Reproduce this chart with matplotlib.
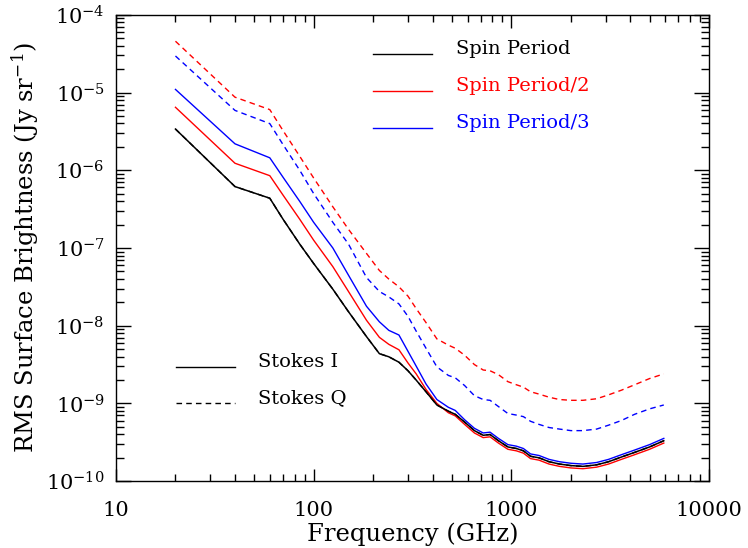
import numpy as np
import matplotlib
matplotlib.use("Agg")
import matplotlib.pyplot as plt
from matplotlib.ticker import LogLocator, NullFormatter, FixedLocator, FixedFormatter

plt.rcParams['font.family'] = 'DejaVu Serif'
plt.rcParams['mathtext.fontset'] = 'dejavuserif'

# --- data (log10 of RMS brightness in Jy/sr) ---
freq_ghz = [20, 40, 60, 70, 85, 100, 125, 150, 185, 215, 240, 270, 300, 330, 370,
            420, 480, 520, 580, 650, 720, 780, 860, 960, 1060, 1150, 1250, 1380,
            1550, 1750, 2000, 2300, 2700, 3100, 3600, 4200, 5000, 5900]

log_i_spin = [-5.47, -6.21, -6.36, -6.63, -6.95, -7.20, -7.53, -7.82, -8.14, -8.36,
              -8.40, -8.47, -8.58, -8.70, -8.85, -9.02, -9.10, -9.14, -9.24, -9.35,
              -9.41, -9.40, -9.48, -9.56, -9.58, -9.61, -9.68, -9.70, -9.75, -9.78,
              -9.80, -9.81, -9.79, -9.75, -9.69, -9.63, -9.56, -9.48]

log_i_spin2 = [-5.19, -5.91, -6.07, -6.32, -6.63, -6.90, -7.24, -7.56, -7.93, -8.15,
               -8.24, -8.31, -8.48, -8.62, -8.82, -9.00, -9.12, -9.16, -9.27, -9.38,
               -9.44, -9.43, -9.51, -9.59, -9.61, -9.64, -9.71, -9.73, -9.78, -9.81,
               -9.83, -9.84, -9.82, -9.78, -9.72, -9.66, -9.59, -9.51]

log_i_spin3 = [-4.96, -5.66, -5.84, -6.09, -6.40, -6.67, -7.00, -7.35, -7.75, -7.95,
               -8.06, -8.12, -8.33, -8.52, -8.75, -8.95, -9.05, -9.09, -9.21, -9.32,
               -9.38, -9.37, -9.45, -9.53, -9.55, -9.58, -9.65, -9.67, -9.72, -9.75,
               -9.77, -9.78, -9.76, -9.72, -9.66, -9.60, -9.53, -9.45]

log_q_spin2 = [-4.34, -5.06, -5.22, -5.49, -5.82, -6.10, -6.47, -6.76, -7.07, -7.29,
               -7.40, -7.50, -7.62, -7.78, -7.96, -8.17, -8.25, -8.29, -8.38, -8.50,
               -8.57, -8.58, -8.63, -8.72, -8.76, -8.79, -8.85, -8.88, -8.92, -8.95,
               -8.96, -8.96, -8.94, -8.89, -8.83, -8.76, -8.68, -8.62]

log_q_spin3 = [-4.53, -5.23, -5.40, -5.67, -6.00, -6.30, -6.67, -6.95, -7.38, -7.56,
               -7.63, -7.72, -7.88, -8.07, -8.29, -8.53, -8.64, -8.67, -8.77, -8.90,
               -8.95, -8.96, -9.04, -9.13, -9.15, -9.17, -9.23, -9.27, -9.31, -9.33,
               -9.35, -9.35, -9.33, -9.28, -9.22, -9.14, -9.07, -9.02]

# Stokes Q at the full spin period lies on top of Stokes I
log_q_spin = log_i_spin

spin_labels = ["Spin Period", "Spin Period/2", "Spin Period/3"]
spin_colors = ["black", "red", "blue"]
x_ticks = [10, 100, 1000, 10000]
y_ticks = [1e-10, 1e-9, 1e-8, 1e-7, 1e-6, 1e-5, 1e-4]
DASH = (0, (4, 3))

fig = plt.figure(figsize=(7.48, 5.48), dpi=100)
ax = fig.add_axes([0.155, 0.122, 0.793, 0.851])

f = np.array(freq_ghz)
ax.plot(f, 10 ** np.array(log_q_spin), color="black", lw=1, ls=DASH)
ax.plot(f, 10 ** np.array(log_q_spin2), color="red", lw=1, ls=DASH)
ax.plot(f, 10 ** np.array(log_q_spin3), color="blue", lw=1, ls=DASH)
ax.plot(f, 10 ** np.array(log_i_spin2), color="red", lw=1)
ax.plot(f, 10 ** np.array(log_i_spin3), color="blue", lw=1)
ax.plot(f, 10 ** np.array(log_i_spin), color="black", lw=1.1)

ax.set_xscale("log")
ax.set_yscale("log")
ax.set_xlim(10, 10000)
ax.set_ylim(1e-10, 1e-4)

ax.xaxis.set_major_locator(FixedLocator(x_ticks))
ax.xaxis.set_major_formatter(FixedFormatter([str(t) for t in x_ticks]))
ax.xaxis.set_minor_locator(LogLocator(base=10, subs=np.arange(2, 10), numticks=20))
ax.xaxis.set_minor_formatter(NullFormatter())
ax.yaxis.set_major_locator(FixedLocator(y_ticks))
ax.yaxis.set_major_formatter(FixedFormatter(
    [r"$10^{%d}$" % int(round(np.log10(t))) for t in y_ticks]))
ax.yaxis.set_minor_locator(LogLocator(base=10, subs=np.arange(2, 10), numticks=20))
ax.yaxis.set_minor_formatter(NullFormatter())

ax.tick_params(which="both", direction="in", top=True, right=True, width=1)
ax.tick_params(which="major", axis="y", length=11)
ax.tick_params(which="minor", axis="y", length=6)
ax.tick_params(which="major", axis="x", length=9)
ax.tick_params(which="minor", axis="x", length=5)
ax.tick_params(axis="y", labelsize=15, pad=8)
ax.tick_params(axis="x", labelsize=15, pad=14)
for s in ax.spines.values():
    s.set_linewidth(1)

ax.set_xlabel("Frequency (GHz)", fontsize=17.5, labelpad=2)
ax.set_ylabel(r"RMS Surface Brightness (Jy sr$^{-1}$)", fontsize=17.5, labelpad=4)

# legend for the spin period colours (top right)
for i, (lab, col) in enumerate(zip(spin_labels, spin_colors)):
    yy = 0.915 - i * 0.079
    ax.plot([0.434, 0.533], [yy, yy], color=col, lw=1, transform=ax.transAxes)
    ax.text(0.573, yy + 0.012, lab, color=col, fontsize=14, transform=ax.transAxes,
            va="center", ha="left")

# legend for the line styles (bottom left)
for i, (lab, ls) in enumerate([("Stokes I", "-"), ("Stokes Q", DASH)]):
    yy = 0.244 - i * 0.077
    ax.plot([0.101, 0.200], [yy, yy], color="black", lw=1, ls=ls, transform=ax.transAxes)
    ax.text(0.240, yy + 0.012, lab, color="black", fontsize=14, transform=ax.transAxes,
            va="center", ha="left")

fig.savefig("out.png", dpi=100)
